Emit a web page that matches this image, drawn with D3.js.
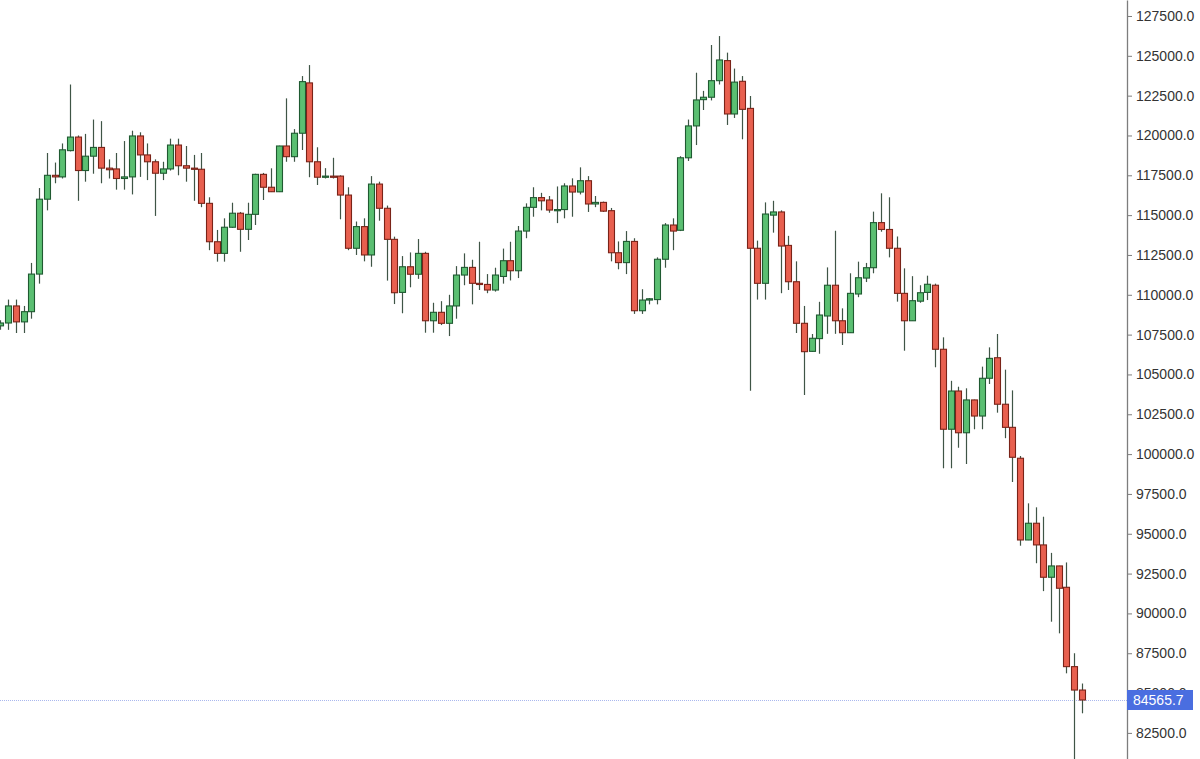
<!DOCTYPE html>
<html>
<head>
<meta charset="utf-8">
<script src="https://cdn.jsdelivr.net/npm/d3@7/dist/d3.min.js"></script>
<style>
  html, body { margin: 0; padding: 0; background: #ffffff; }
  svg { display: block; }
</style>
</head>
<body>
<svg id="chart" width="1200" height="759"></svg>
<script>
// ---- data (daily candles) ----
const startDate = "2025-07-05";
const opens = [108050,108230,109300,108300,108940,111300,116000,117500,117400,119050,119900,117800,118700,119250,117950,117900,117300,117400,119970,118780,118350,117630,117900,119400,118100,117950,117880,115740,113330,112600,114240,115120,114110,115050,117560,116750,116470,119340,118670,120140,123300,118350,117380,117450,117450,116260,112920,114280,112500,116950,115430,113480,110150,111760,111290,112600,108370,108900,108210,109300,111240,111720,110720,110650,110300,111150,112140,111510,114000,115490,116100,115950,115320,115350,116830,116450,117160,115700,115800,115280,112640,112020,113350,109000,109670,109700,112230,114380,114050,118600,120600,122250,122400,123440,124700,121350,123400,121700,112920,110720,115000,115200,113100,110820,108210,106450,107250,108670,110600,108370,107620,110050,111050,111700,114530,114100,112920,110090,108370,109600,110150,110600,106580,101560,103960,101340,103400,102390,104760,106050,103130,101680,99740,94610,95660,94300,92270,92980,91640,86660,85190];
const highs = [108400,109700,109700,109300,112000,116700,118900,118300,119500,123200,120000,120100,121000,120900,118500,118900,119650,120300,120200,119500,118500,118350,119800,119800,119340,118780,118900,116120,114070,114800,115780,115200,115780,117600,117650,117940,119360,122330,120400,123730,124420,119260,117950,118600,117500,116750,114600,114800,117450,117100,115600,113650,112430,112660,113500,112700,109500,109600,110000,111800,112600,112200,113330,111300,111700,112900,113330,114320,115740,116750,116400,116200,116800,117000,117310,118000,117450,116200,115850,115450,113350,114000,113550,110350,109800,112350,114500,114800,118700,121000,123940,122800,125680,126240,125200,124200,123730,122480,113400,115800,115900,115300,113700,112100,109300,107540,109560,111720,114020,109150,111350,112080,112000,115220,116370,116120,113660,111660,111170,110600,111200,110700,107330,104600,104230,104130,103420,105490,106700,107540,105300,104000,99880,96910,96660,96070,93800,92990,93200,87500,85600];
const lows = [107800,107800,107600,107600,108500,110700,115300,117000,117300,119000,115900,117100,117600,117000,117300,116600,116600,116300,117400,117200,114950,117200,117800,117500,117100,115900,115500,112800,112080,112080,114200,112700,113440,114380,115950,116450,116450,118350,118350,119090,117380,116890,117300,117300,114740,112800,112500,112100,111760,114650,110890,109420,108840,110470,111000,107620,107620,108100,107410,108500,110600,109400,110300,110100,110200,110700,110900,111050,113550,114900,115300,115150,114500,114800,114900,116300,115200,115500,115200,112100,111600,111300,108800,108800,109400,109400,111700,112800,114000,118400,119400,121600,122200,123200,120660,121100,119760,103980,109700,109700,113900,110100,110300,107600,103710,106430,106300,107550,107550,106850,107600,109850,110800,111350,113960,112350,109570,106490,108370,109500,109670,105450,99110,99110,100400,99380,101560,101560,104400,102600,101000,98250,94250,94600,93150,91400,89480,88750,86240,80600,83730];
const closes = [108230,109300,108300,108940,111300,116000,117500,117400,119100,119900,117800,118700,119250,117950,117850,117300,117400,119970,118780,118350,117630,117900,119400,118100,117950,117880,115740,113330,112600,114240,115120,114110,115050,117560,116750,116470,119340,118670,120140,123380,118350,117380,117450,117400,116260,112920,114280,112500,116950,115430,113480,110130,111760,111290,112600,108370,108900,108210,109300,111240,111720,110720,110650,110300,111240,112140,111510,114000,115490,116100,115900,115320,115350,116830,116450,117160,115700,115800,115250,112640,112020,113350,109000,109670,109750,112230,114380,114000,118600,120600,122230,122400,123440,124740,121350,123350,121640,112920,110720,115070,115200,113060,110820,108210,106430,107270,108730,110600,108370,107620,110090,111070,111700,114530,114100,112920,110090,108370,109630,110130,110660,106580,101560,103960,101340,103400,102390,104760,106010,103130,101680,99800,94610,95660,94300,92270,92980,91580,86660,85190,84565.7];
const lastPrice = 84565.7;
const tickValues = [82500,85000,87500,90000,92500,95000,97500,100000,102500,105000,107500,110000,112500,115000,117500,120000,122500,125000,127500];

// ---- layout ----
const W = 1200, H = 759;
const axisX = 1127;
const svg = d3.select("#chart");

const dates = d3.timeDay.range(d3.timeParse("%Y-%m-%d")(startDate), d3.timeDay.offset(d3.timeParse("%Y-%m-%d")(startDate), opens.length));
const candles = dates.map((d, i) => ({ date: d, o: opens[i], h: highs[i], l: lows[i], c: closes[i] }));

const x = d3.scaleBand().domain(dates).range([-4.47, -4.47 + 7.74 * dates.length]).padding(0.28);
const y = d3.scaleLinear().domain([80862, 128504]).range([H, 0]);

const plot = svg.append("g");

// last price dotted line
plot.append("line")
  .attr("x1", 0).attr("x2", axisX)
  .attr("y1", Math.round(y(lastPrice)) + 0.5).attr("y2", Math.round(y(lastPrice)) + 0.5)
  .attr("stroke", "#aab8ee").attr("stroke-width", 1).attr("stroke-dasharray", "1,1");

const up = d => d.c >= d.o;
const cx = d => x(d.date) + x.bandwidth() / 2;

const g = plot.selectAll("g.candle").data(candles).join("g").attr("class", "candle");
g.append("line")
  .attr("x1", d => Math.round(cx(d)) + 0.5).attr("x2", d => Math.round(cx(d)) + 0.5)
  .attr("y1", d => y(d.h)).attr("y2", d => y(d.l))
  .attr("stroke", "#3f5546").attr("stroke-width", 1.2);
g.append("rect")
  .attr("x", d => Math.round(cx(d)) - 2.5)
  .attr("width", 6)
  .attr("y", d => y(Math.max(d.o, d.c)))
  .attr("height", d => Math.max(1.2, Math.abs(y(d.o) - y(d.c))))
  .attr("fill", d => up(d) ? "#5bbf72" : "#e8604f")
  .attr("stroke", d => up(d) ? "#1f5a31" : "#7a2318")
  .attr("stroke-width", 1.1);

// axis
const axis = d3.axisRight(y).tickValues(tickValues).tickFormat(d3.format(".1f")).tickSize(5).tickSizeOuter(0).tickPadding(4);
const ax = svg.append("g").attr("transform", `translate(${axisX},0)`).call(axis);
ax.select(".domain").attr("stroke", "#7d7d7d").attr("stroke-width", 1.3);
ax.selectAll(".tick line").attr("stroke", "#7d7d7d");
ax.selectAll(".tick text").attr("fill", "#333").style("font-family", "Liberation Sans, Arial, sans-serif").style("font-size", "14px");

// last price label
const ly = y(lastPrice);
const lbl = svg.append("g").attr("transform", `translate(${axisX},${ly})`);
lbl.append("rect").attr("x", 0).attr("y", -10).attr("width", 66).attr("height", 20).attr("fill", "#4a6ee0");
lbl.append("text").attr("x", 6).attr("y", 0).attr("dy", "0.35em")
  .attr("fill", "#ffffff").style("font-family", "Liberation Sans, Arial, sans-serif").style("font-size", "14px")
  .text(d3.format(".1f")(lastPrice));
</script>
</body>
</html>
